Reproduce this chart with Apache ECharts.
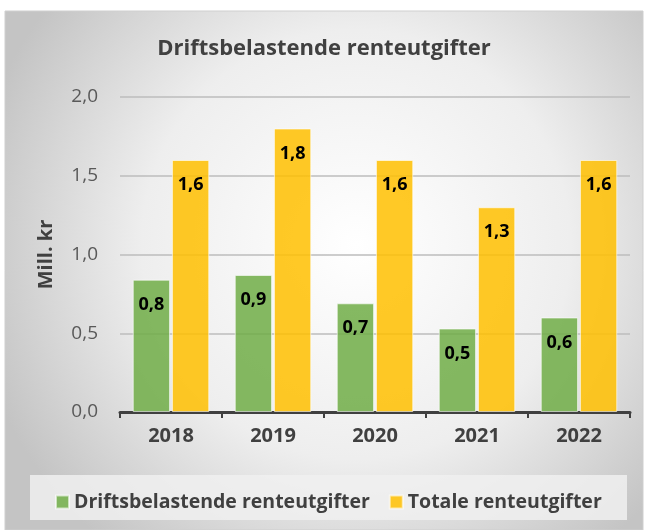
<!DOCTYPE html>
<html>
<head>
<meta charset="utf-8">
<script src="https://cdn.jsdelivr.net/npm/echarts@6/dist/echarts.min.js"></script>
<style>
  html, body { margin: 0; padding: 0; background: #fff; }
  #chart { width: 648px; height: 530px; }
</style>
</head>
<body>
<div id="chart"></div>
<script>
  var years = ['2018', '2019', '2020', '2021', '2022']
  var drift = [0.84, 0.87, 0.69, 0.53, 0.60]
  var totale = [1.60, 1.80, 1.60, 1.30, 1.60]
  var yTicks = [0, 0.5, 1.0, 1.5, 2.0]

  var font = '"Open Sans", "Noto Sans", sans-serif'
  var fmt = function (v) { return v.toFixed(1).replace('.', ',') }

  var chart = echarts.init(document.getElementById('chart'))
  var option = {
    backgroundColor: '#fff',
    textStyle: { fontFamily: font },
    graphic: [{
      type: 'rect',
      z: -10,
      shape: { x: 5, y: 11, width: 638, height: 519 },
      style: {
        fill: new echarts.graphic.RadialGradient(0.55, 0.45, 0.75, [
          { offset: 0, color: '#ffffff' },
          { offset: 0.55, color: '#eeeeee' },
          { offset: 1, color: '#c4c4c4' }
        ]),
        stroke: '#cfcfcf',
        lineWidth: 1
      }
    }, {
      type: 'rect',
      z: -9,
      shape: { x: 30, y: 475, width: 597, height: 45 },
      style: { fill: 'rgba(240,240,240,0.85)' }
    }],
    title: {
      text: 'Driftsbelastende renteutgifter',
      left: 'center',
      top: 33,
      textStyle: { fontSize: 22, fontWeight: 'bold', color: '#404040', fontFamily: font }
    },
    legend: {
      top: 487,
      left: 50,
      itemWidth: 13,
      itemHeight: 13,
      itemGap: 19,
      icon: 'rect',
      textStyle: { fontSize: 19.5, fontWeight: 'bold', color: '#404040', fontFamily: font }
    },
    grid: { left: 120, right: 18, top: 97, bottom: 118 },
    xAxis: {
      type: 'category',
      data: years,
      axisLine: { lineStyle: { color: '#404040', width: 3 } },
      axisTick: { show: true, length: 6, lineStyle: { color: '#404040', width: 2 } },
      axisLabel: { fontSize: 20, fontWeight: 'bold', color: '#404040', margin: 14, fontFamily: font }
    },
    yAxis: {
      type: 'value',
      min: yTicks[0],
      max: yTicks[yTicks.length - 1],
      interval: 0.5,
      name: 'Mill. kr',
      nameLocation: 'middle',
      nameGap: 64,
      nameTextStyle: { fontSize: 20, fontWeight: 'bold', color: '#404040', fontFamily: font },
      axisLine: { show: false },
      axisTick: { show: false },
      axisLabel: { fontSize: 19, color: '#595959', margin: 22, formatter: fmt, fontFamily: font },
      splitLine: { lineStyle: { color: '#bdbdbd', width: 1.5 } }
    },
    series: [{
      name: 'Driftsbelastende renteutgifter',
      type: 'bar',
      data: drift,
      barGap: '5%',
      barCategoryGap: '25%',
      itemStyle: { color: 'rgba(112,173,71,0.85)', borderColor: 'rgba(255,255,255,0.6)', borderWidth: 1 },
      label: {
        show: true, position: 'insideTop', distance: 16,
        fontSize: 18, fontWeight: 'bold', color: '#000', fontFamily: font,
        formatter: function (p) { return fmt(p.value) }
      }
    }, {
      name: 'Totale renteutgifter',
      type: 'bar',
      data: totale,
      itemStyle: { color: 'rgba(255,192,0,0.85)', borderColor: 'rgba(255,255,255,0.6)', borderWidth: 1 },
      label: {
        show: true, position: 'insideTop', distance: 16,
        fontSize: 18, fontWeight: 'bold', color: '#000', fontFamily: font,
        formatter: function (p) { return fmt(p.value) }
      }
    }]
  }
  chart.setOption(option)
</script>
</body>
</html>
